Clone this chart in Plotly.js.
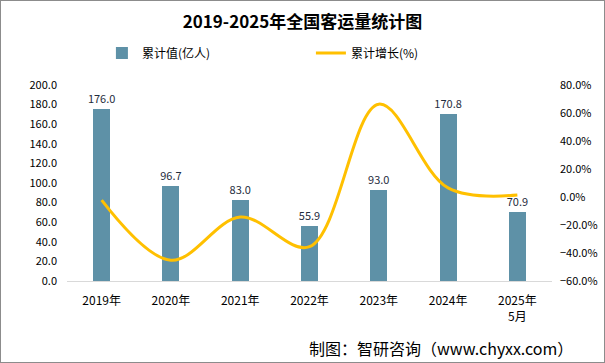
<!DOCTYPE html>
<html><head><meta charset="utf-8">
<script src="https://cdn.plot.ly/plotly-3.0.1.min.js"></script>
<style>
body{margin:0;padding:0;background:#fff;}
#wrap{position:relative;width:605px;height:363px;}
#chart{width:605px;height:363px;}
#frame{position:absolute;left:0;top:0;width:605px;height:363px;box-sizing:border-box;border:1px solid #8c8c8c;pointer-events:none;}
</style></head>
<body>
<div id="wrap"><div id="chart"></div><div id="frame"></div></div>
<script>
const categories = ["2019年","2020年","2021年","2022年","2023年","2024年","2025年<br>5月"];
const volume = [176.0, 96.7, 83.0, 55.9, 93.0, 170.8, 70.9];
const growth = [-2.2, -45.2, -14.3, -35.5, 66.3, 6.5, 1.4];
const volumeName = "累计值(亿人)";
const growthName = "累计增长(%)";

const font = "Noto Sans CJK SC, Microsoft YaHei, sans-serif";

const traces = [
  {type:"bar", x:categories, y:volume, name:volumeName, marker:{color:"#5E91A7"},
   width:0.245, text:volume.map(v=>v.toFixed(1)), textposition:"outside", constraintext:"none",
   textfont:{size:11,color:"#1F2D3D",family:font}, cliponaxis:false, hoverinfo:"skip"},
  {type:"scatter", mode:"lines", x:categories, y:growth, yaxis:"y2", name:growthName,
   line:{color:"#FFC000", width:3, shape:"spline", smoothing:1}, hoverinfo:"skip"}
];

const layout = {
  width:605, height:363,
  margin:{l:67, r:53, t:85, b:82},
  paper_bgcolor:"#fff", plot_bgcolor:"#fff",
  font:{family:font, size:11, color:"#000"},
  title:{text:"<b>2019-2025年全国客运量统计图</b>", x:0.5, xanchor:"center", y:0.94, yanchor:"middle",
         font:{size:17, color:"#000", family:font}},
  showlegend:true,
  legend:{orientation:"h", x:0.072, xanchor:"left", y:1.163, yanchor:"middle",
          entrywidth:164, font:{size:12, family:font}, traceorder:"normal"},
  bargap:0,
  xaxis:{type:"category", range:[-0.5,6.5], showline:true, linecolor:"#D9D9D9", linewidth:1,
         ticks:"outside", ticklen:9, tickcolor:"rgba(0,0,0,0)", showgrid:false, tickfont:{size:12, family:font}},
  yaxis:{range:[0,200], dtick:20, tickformat:".1f", showgrid:false, zeroline:false,
         ticks:"", showline:false, ticklabelstandoff:9, tickfont:{size:11, family:font}},
  yaxis2:{overlaying:"y", side:"right", range:[-60,80], dtick:20, tickformat:".1f", ticksuffix:"%",
          showgrid:false, zeroline:false, ticks:"", showline:false, ticklabelstandoff:7, tickfont:{size:11, family:font}},
  annotations:[
    {text:"制图：智研咨询（www.chyxx.com）", xref:"paper", yref:"paper", x:1.047, y:-0.342,
     xanchor:"right", yanchor:"middle", showarrow:false, font:{size:16, color:"#000", family:font}}
  ]
};

Plotly.newPlot("chart", traces, layout, {displayModeBar:false, staticPlot:true});
</script>
</body></html>
